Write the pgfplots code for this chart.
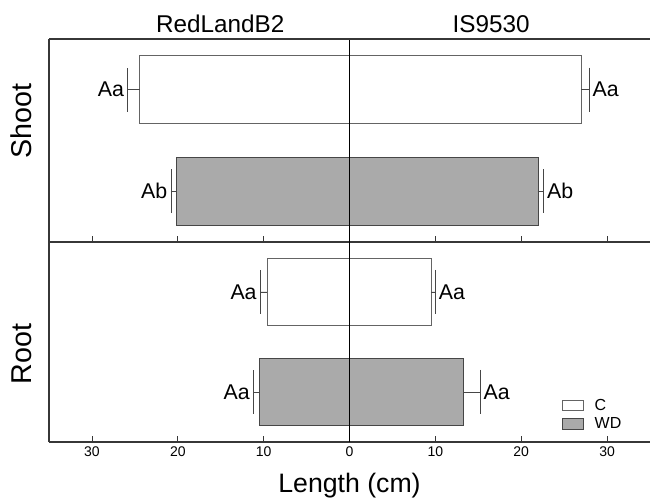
\documentclass[border=0pt]{standalone}
\usepackage{fontspec}
\setmainfont{Liberation Sans}
\usepackage{pgfplots}
\pgfplotsset{compat=1.18}

\definecolor{wdgray}{RGB}{170,170,170}
\definecolor{edgeC}{RGB}{100,100,100}
\definecolor{edgeWD}{RGB}{70,70,70}
\definecolor{framec}{RGB}{55,55,55}

\pgfplotsset{
  panel/.style={
    scale only axis, width=450.75pt,
    xmin=-35, xmax=35, ymin=0, ymax=2,
    axis x line*=bottom, axis y line*=left,
    axis line style={-, framec, line width=0.8pt},
    xtick={-30,-20,...,30}, tick align=inside,
    major tick length=4.5pt,
    ytick=\empty,
    tick style={framec, line width=0.6pt},
    ticklabel style={font=\fontsize{10.5}{12}\selectfont},
    /pgf/number format/assume math mode=true,
    clip=false,
  },
  cbar/.style={xbar, bar width=0.667, bar shift=0pt, draw=edgeC, fill=white,
    line width=0.6pt,
    legend image code/.code={\draw[##1] (0pt,-4pt) rectangle (16pt,4pt);}},
  wdbar/.style={xbar, bar width=0.667, bar shift=0pt, draw=edgeWD, fill=wdgray,
    line width=0.6pt,
    legend image code/.code={\draw[##1] (0pt,-4pt) rectangle (16pt,4pt);}},
  errL/.style={error bars/x dir=minus, error bars/x explicit,
    error bars/error mark=|,
    error bars/error bar style={edgeWD, line width=0.6pt},
    error bars/error mark options={edgeWD, mark size=16.5pt, line width=0.6pt}},
  errR/.style={error bars/x dir=plus, error bars/x explicit,
    error bars/error mark=|,
    error bars/error bar style={edgeWD, line width=0.6pt},
    error bars/error mark options={edgeWD, mark size=16.5pt, line width=0.6pt}},
  lblL/.style={draw=none, mark=none, forget plot, point meta=explicit symbolic,
    nodes near coords, nodes near coords align={left},
    nodes near coords style={font=\fontsize{16}{18}\selectfont, inner sep=2.5pt}},
  lblR/.style={draw=none, mark=none, forget plot, point meta=explicit symbolic,
    nodes near coords, nodes near coords align={right},
    nodes near coords style={font=\fontsize{16}{18}\selectfont, inner sep=2.5pt}},
}

\begin{document}
\begin{tikzpicture}
\useasboundingbox (0,0) rectangle (487.5pt,375pt);

% Shoot
\begin{axis}[panel, height=152.25pt,
  at={(36.75pt,193.5pt)}, anchor=south west,
  xticklabels={,,,,,,},
  ylabel={Shoot},
  ylabel style={at={(rel axis cs:-0.0283,0.596)}, anchor=base,
    font=\fontsize{21.5}{24}\selectfont},
]
\addplot[cbar, errL, forget plot] coordinates {(-24.45,1.5) -= (1.4,0)};
\addplot[cbar, errR, forget plot] coordinates {(27.0,1.5) += (0.9,0)};
\addplot[wdbar, errL, forget plot] coordinates {(-20.2,0.5) -= (0.6,0)};
\addplot[wdbar, errR, forget plot] coordinates {(21.95,0.5) += (0.65,0)};
\addplot[lblL] coordinates {(-25.85,1.5)[Aa] (-20.8,0.5)[Ab]};
\addplot[lblR] coordinates {(27.9,1.5)[Aa] (22.6,0.5)[Ab]};
\draw[black, line width=0.6pt] (axis cs:0,0) -- (axis cs:0,2);
\draw[framec, line width=0.8pt] (rel axis cs:0,1) -- (rel axis cs:1,1);
\node[anchor=base, yshift=4.5pt, font=\fontsize{18.2}{21}\selectfont] at (axis cs:-15.06,2) {RedLandB2};
\node[anchor=base, yshift=4.5pt, font=\fontsize{18.2}{21}\selectfont] at (axis cs:16.5,2) {IS9530};
\end{axis}

% Root
\begin{axis}[panel, height=150pt,
  at={(36.75pt,43.5pt)}, anchor=south west,
  xticklabels={30,20,10,0,10,20,30},
  ylabel={Root},
  ylabel style={at={(rel axis cs:-0.0283,0.44)}, anchor=base,
    font=\fontsize{21.5}{24}\selectfont},
  xlabel={Length (cm)},
  xlabel style={at={(rel axis cs:0.5,0)}, anchor=base, yshift=-38pt,
    font=\fontsize{20}{23}\selectfont},
  legend style={draw=none, fill=none, at={(rel axis cs:0.853,0.23)},
    anchor=north west, font=\fontsize{12}{14}\selectfont,
    row sep=0pt, column sep=6pt, inner sep=0pt},
  legend cell align=left,
]
\addplot[cbar, errL] coordinates {(-9.6,1.5) -= (0.8,0)};
\addlegendentry{C}
\addplot[wdbar, errL] coordinates {(-10.55,0.5) -= (0.65,0)};
\addlegendentry{WD}
\addplot[cbar, errR, forget plot] coordinates {(9.5,1.5) += (0.5,0)};
\addplot[wdbar, errR, forget plot] coordinates {(13.3,0.5) += (1.9,0)};
\addplot[lblL] coordinates {(-10.4,1.5)[Aa] (-11.2,0.5)[Aa]};
\addplot[lblR] coordinates {(10.0,1.5)[Aa] (15.2,0.5)[Aa]};
\draw[black, line width=0.6pt] (axis cs:0,0) -- (axis cs:0,2);
\end{axis}
\end{tikzpicture}
\end{document}
